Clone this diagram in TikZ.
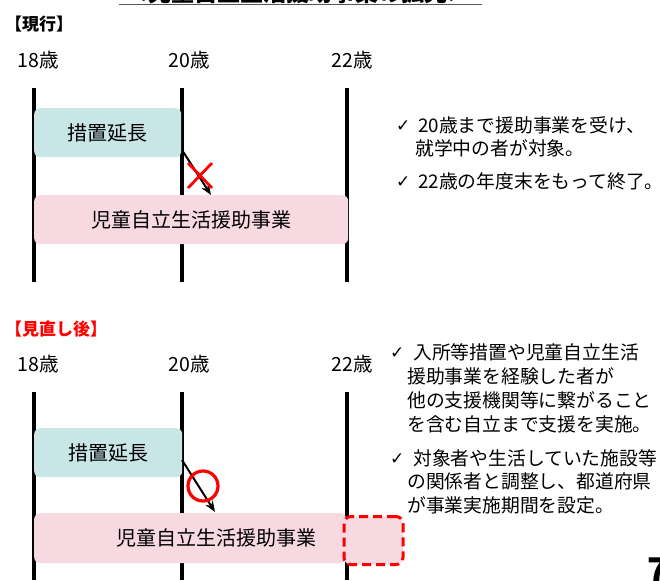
\documentclass[tikz,border=0pt]{standalone}
\usepackage{fontspec}
\setmainfont{Noto Sans CJK JP}
\newfontfamily\chkfont{DejaVu Sans}
\usetikzlibrary{arrows.meta}
\definecolor{tealfill}{HTML}{C9E6E6}
\definecolor{pinkfill}{HTML}{F7D9E1}
\definecolor{redc}{HTML}{FF0000}
\begin{document}
\begin{tikzpicture}[x=1pt,y=-1pt,
  vline/.style={line width=4pt, black},
  tealbox/.style={fill=tealfill, rounded corners=6pt, anchor=north west, inner sep=0, font=\fontsize{20}{20}\selectfont},
  pinkbox/.style={fill=pinkfill, rounded corners=6pt, anchor=north west, inner sep=0},
  agelbl/.style={inner sep=0, font=\fontsize{19.5}{20}\selectfont},
  sect/.style={inner sep=0, anchor=west, font=\fontsize{17}{17}\bfseries},
  rtxt/.style={inner sep=0, anchor=west, font=\fontsize{18.8}{19}\selectfont},
  chk/.style={inner sep=0, anchor=west, font=\chkfont\fontsize{17}{17}\selectfont},
  arr/.style={line width=2pt, -{Stealth[length=11pt,width=8.5pt]}},
  redmark/.style={draw=redc, line width=2.8pt}
]
\useasboundingbox (0,0) rectangle (660,580);
\clip (0,0) rectangle (660,580);
\fill[white] (0,0) rectangle (660,580);

% title (cut off at top)
\node[inner sep=0, anchor=base, font=\fontsize{23}{23}\bfseries] (title) at (298,1.5) {＜児童自立生活援助事業の拡充＞};
\coordinate (ulA) at (119,4.5);
\coordinate (ulB) at (482,4.5);
\draw[line width=1.8pt, black!65] (ulA) -- (ulB);

% ===== current =====
\node[sect] (cur) at (5,24) {【現行】};
\node[agelbl] (a18) at (38,60) {18歳};
\node[agelbl] (a20) at (189,60) {20歳};
\node[agelbl] (a22) at (352,60) {22歳};

\coordinate (l1t) at (34,88);  \coordinate (l1b) at (34,282);
\coordinate (l2t) at (181.5,88); \coordinate (l2b) at (181.5,282);
\coordinate (l3t) at (347,88); \coordinate (l3b) at (347,282);
\draw[vline] (l1t) -- (l1b);
\draw[vline] (l2t) -- (l2b);
\draw[vline] (l3t) -- (l3b);

\node[tealbox, minimum width=147pt, minimum height=49pt] (extA) at (34,108) {措置延長};
\node[pinkbox, minimum width=314pt, minimum height=49pt, font=\fontsize{20}{20}\selectfont] (supA) at (34,195) {児童自立生活援助事業};

\coordinate (arAs) at (182,150);
\coordinate (arAe) at (211,195);
\draw[arr] (arAs) -- (arAe);
\draw[redmark] (188,163) -- (212,188) (188,188) -- (212,163);

\node[chk] (c1) at (396,126) {✓};
\node[rtxt] (t1a) at (418,125) {20歳まで援助事業を受け、};
\node[rtxt] (t1b) at (415,148) {就学中の者が対象。};
\node[chk] (c2) at (396,182) {✓};
\node[rtxt] (t2a) at (418,181) {22歳の年度末をもって終了。};

% ===== revised =====
\node[sect, text=redc] (rev) at (5,329) {【見直し後】};
\node[agelbl] (b18) at (38,364) {18歳};
\node[agelbl] (b20) at (189,364) {20歳};
\node[agelbl] (b22) at (352,364) {22歳};

\coordinate (m1t) at (34,392);  \coordinate (m1b) at (34,580);
\coordinate (m2t) at (181.5,392); \coordinate (m2b) at (181.5,580);
\coordinate (m3t) at (347,392); \coordinate (m3b) at (347,580);
\draw[vline] (m1t) -- (m1b);
\draw[vline] (m2t) -- (m2b);
\draw[vline] (m3t) -- (m3b);

\node[tealbox, minimum width=148pt, minimum height=49pt] (extB) at (34,428) {措置延長};
\node[pinkbox, minimum width=312pt, minimum height=50pt] (supB) at (34,513) {};
\node[pinkbox, draw=redc, line width=3pt, dash pattern=on 9pt off 5pt, rounded corners=7pt, minimum width=59pt, minimum height=48pt] (extn) at (342.5,515) {};
\node[inner sep=0, font=\fontsize{20}{20}\selectfont] (supBt) at (216,537.5) {児童自立生活援助事業};

\coordinate (arBs) at (182,460);
\coordinate (arBe) at (215,512);
\draw[arr] (arBs) -- (arBe);
\draw[redmark, line width=3.2pt] (203,486) circle[radius=15pt];

\node[chk] (d1) at (390,353) {✓};
\node[rtxt] (u1a) at (413,352) {入所等措置や児童自立生活};
\node[rtxt] (u1b) at (407,376) {援助事業を経験した者が};
\node[rtxt] (u1c) at (407,400) {他の支援機関等に繋がること};
\node[rtxt] (u1d) at (407,424) {を含む自立まで支援を実施。};
\node[chk] (d2) at (390,459) {✓};
\node[rtxt] (u2a) at (413,458) {対象者や生活していた施設等};
\node[rtxt] (u2b) at (407,481) {の関係者と調整し、都道府県};
\node[rtxt] (u2c) at (407,505) {が事業実施期間を設定。};

\node[inner sep=0, anchor=base west, font=\fontsize{34}{34}\bfseries] (pg) at (647,582) {7};
\end{tikzpicture}
\end{document}
